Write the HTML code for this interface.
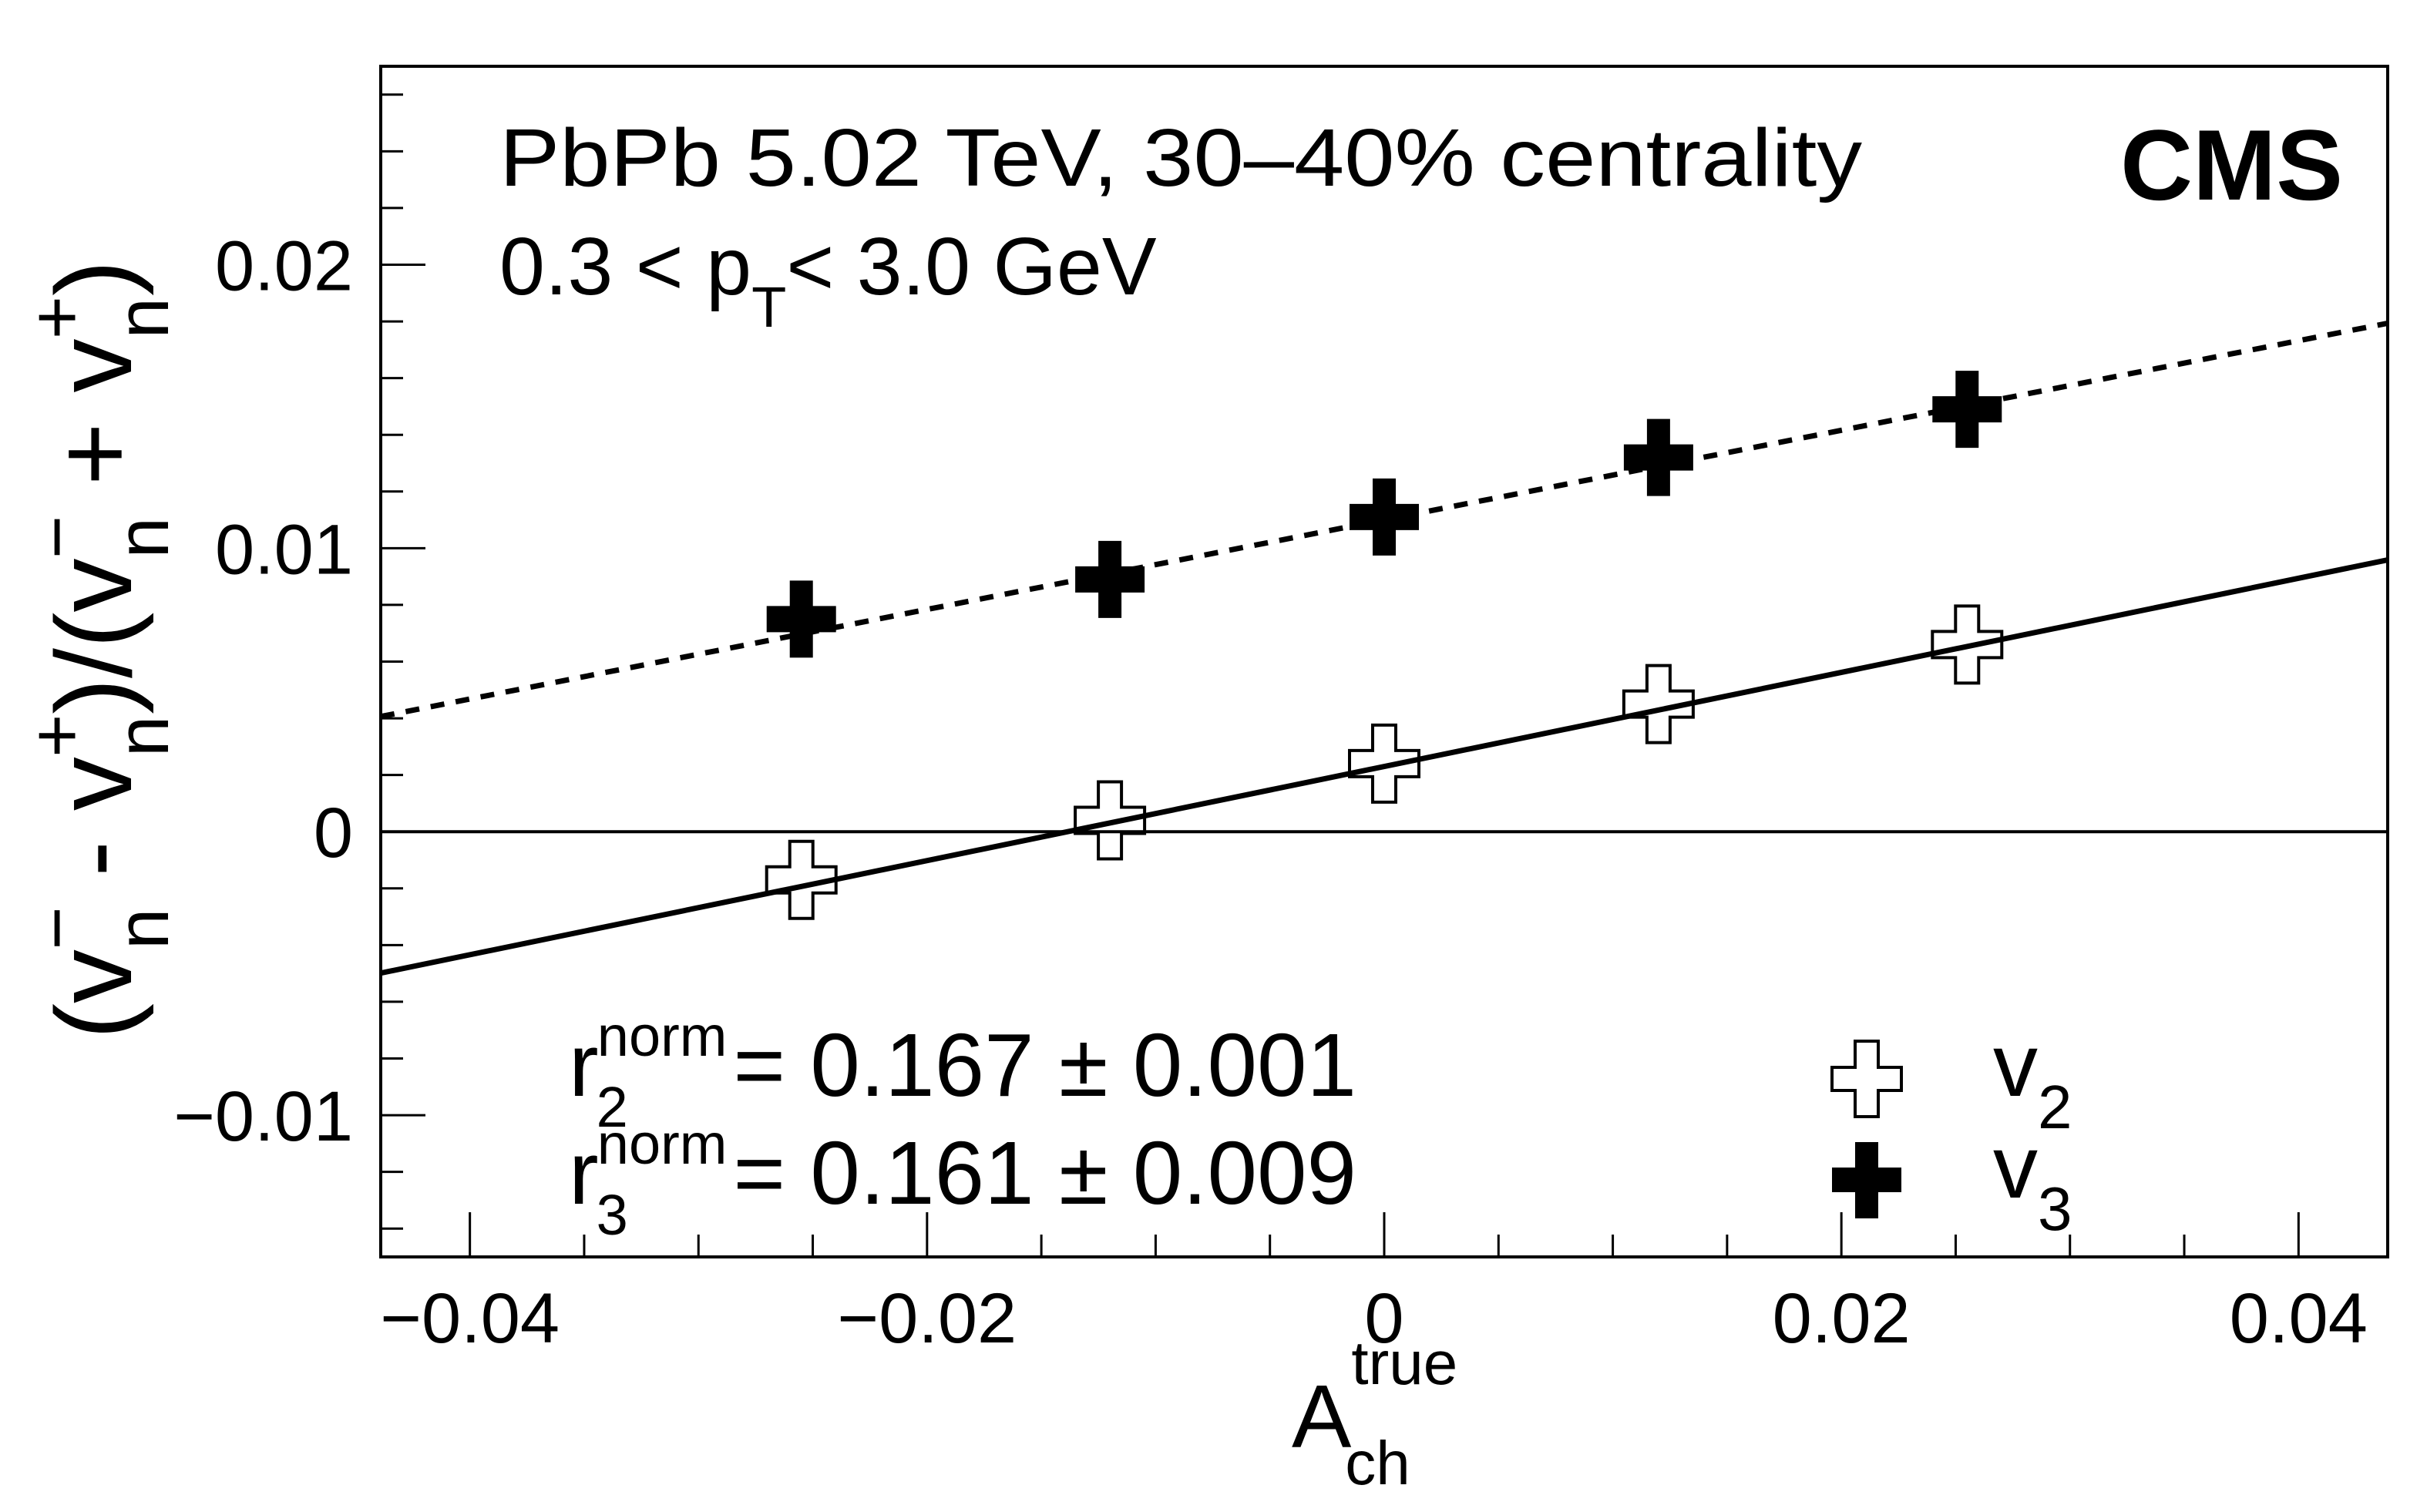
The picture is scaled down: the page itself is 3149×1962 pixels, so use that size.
<!DOCTYPE html>
<html><head><meta charset="utf-8"><style>
html,body{margin:0;padding:0;background:#fff;}
svg{display:block;font-family:"Liberation Sans",sans-serif;}
</style></head><body>
<svg id="chart" width="3149" height="1962" viewBox="0 0 3149 1962" xmlns="http://www.w3.org/2000/svg">
<g id="axes"></g>
<g id="marks"></g>
<text x="648" y="241" font-size="106" textLength="1768" lengthAdjust="spacingAndGlyphs">PbPb 5.02 TeV, 30–40% centrality</text>
<text x="648" y="382" font-size="106">0.3 &lt; p<tspan font-size="74" dy="42">T</tspan><tspan dy="-42">&lt; 3.0 GeV</tspan></text>
<text x="3040" y="259" font-size="130" font-weight="bold" text-anchor="end">CMS</text>
<text x="738" y="1422" font-size="116">r<tspan font-size="74" dx="-3" dy="40">2</tspan><tspan font-size="74" dx="-40" dy="-92">norm</tspan><tspan dy="52" dx="8">= 0.167 ± 0.001</tspan></text>
<text x="738" y="1562" font-size="116">r<tspan font-size="74" dx="-3" dy="40">3</tspan><tspan font-size="74" dx="-40" dy="-92">norm</tspan><tspan dy="52" dx="8">= 0.161 ± 0.009</tspan></text>
<g>
<path d="M2407,1351h30v34h30v30h-30v34h-30v-34h-30v-30h30z" fill="#fff" stroke="#000" stroke-width="4"/>
<path d="M2407,1482h30v33h30v32h-30v34h-30v-34h-30v-32h30z" fill="#000"/>
<text x="2586" y="1422" font-size="116">v<tspan font-size="80" dy="42">2</tspan></text>
<text x="2586" y="1554" font-size="116">v<tspan font-size="80" dy="42">3</tspan></text>
</g>
<text transform="translate(170,843) rotate(-90)" font-size="140" text-anchor="middle">(v<tspan font-size="96" dy="48">n</tspan><tspan font-size="96" dx="-54" dy="-112">−</tspan><tspan dy="64"> - v</tspan><tspan font-size="96" dy="48">n</tspan><tspan font-size="96" dx="-54" dy="-112">+</tspan><tspan dy="64">)/(v</tspan><tspan font-size="96" dy="48">n</tspan><tspan font-size="96" dx="-54" dy="-112">−</tspan><tspan dy="64"> + v</tspan><tspan font-size="96" dy="48">n</tspan><tspan font-size="96" dx="-54" dy="-112">+</tspan><tspan dy="64">)</tspan></text>
<text x="1676" y="1878" font-size="116">A<tspan font-size="80" dy="-82">true</tspan><tspan font-size="80" dx="-146" dy="130">ch</tspan></text>
</svg>
<script>
const xTicks=[-0.04,-0.02,0,0.02,0.04];
const xTickLabels=["−0.04","−0.02","0","0.02","0.04"];
const yTicks=[-0.01,0,0.01,0.02];
const yTickLabels=["−0.01","0","0.01","0.02"];
const xVals=[-0.0255,-0.012,0,0.012,0.0255];
const v2Vals=[-0.0017,0.0004,0.0024,0.0045,0.0066];
const v3Vals=[0.0075,0.0089,0.0111,0.0132,0.0149];
const v2Fit=[0.166,0.0023];
const v3Fit=[0.158,0.0110];
const X0=494,X1=3098,Y0=86,Y1=1631;
const xmin=-0.0439,xmax=0.0439,ymin=-0.0150,ymax=0.0270;
function sx(v){return X0+(v-xmin)/(xmax-xmin)*(X1-X0);}
function sy(v){return Y1-(v-ymin)/(ymax-ymin)*(Y1-Y0);}
const NS="http://www.w3.org/2000/svg";
function mk(tag,attrs,parent){const e=document.createElementNS(NS,tag);for(const k in attrs)e.setAttribute(k,attrs[k]);parent.appendChild(e);return e;}
const ax=document.getElementById('axes'),mg=document.getElementById('marks');
let fr=mk('rect',{x:X0,y:Y0,width:X1-X0,height:Y1-Y0,fill:'none',stroke:'#000','stroke-width':4},ax);


for(let i=-8;i<=8;i++){const v=i*0.005;const x=sx(v);const major=(i%4===0);
 let t=mk('line',{x1:x,x2:x,y1:Y1,y2:Y1-(major?58:29),stroke:'#000','stroke-width':3},ax);
 
 }
xTicks.forEach((v,i)=>{let t=mk('text',{x:sx(v),y:1742,'font-size':92,'text-anchor':'middle'},ax);t.textContent=xTickLabels[i];
 
 });
for(let i=-7;i<=13;i++){const v=i*0.002;const y=sy(v);if(y<Y0||y>Y1)continue;const major=(i%5===0);
 let t=mk('line',{x1:X0,x2:X0+(major?58:29),y1:y,y2:y,stroke:'#000','stroke-width':3},ax);
 
 }
yTicks.forEach((v,i)=>{let t=mk('text',{x:458,y:sy(v)+33,'font-size':92,'text-anchor':'end'},ax);t.textContent=yTickLabels[i];
 
 });
let z=mk('line',{x1:X0,x2:X1,y1:sy(0),y2:sy(0),stroke:'#000','stroke-width':4},mg);


let f2=mk('line',{x1:sx(xmin),x2:sx(xmax),y1:sy(v2Fit[0]*xmin+v2Fit[1]),y2:sy(v2Fit[0]*xmax+v2Fit[1]),stroke:'#000','stroke-width':7},mg);


let f3=mk('line',{x1:sx(xmin),x2:sx(xmax),y1:sy(v3Fit[0]*xmin+v3Fit[1]),y2:sy(v3Fit[0]*xmax+v3Fit[1]),stroke:'#000','stroke-width':7,'stroke-dasharray':'18 15'},mg);


function cross(cx,cy){return `M${cx-15},${cy-50}h30v33h30v34h-30v33h-30v-33h-30v-34h30z`;}
xVals.forEach((xv,i)=>{
 let p=mk('path',{d:cross(sx(xv),sy(v2Vals[i])),fill:'none',stroke:'#000','stroke-width':4},mg);
 
 
 let q=mk('path',{d:cross(sx(xv),sy(v3Vals[i])),fill:'#000'},mg);
 
 
});
</script>
</body></html>
